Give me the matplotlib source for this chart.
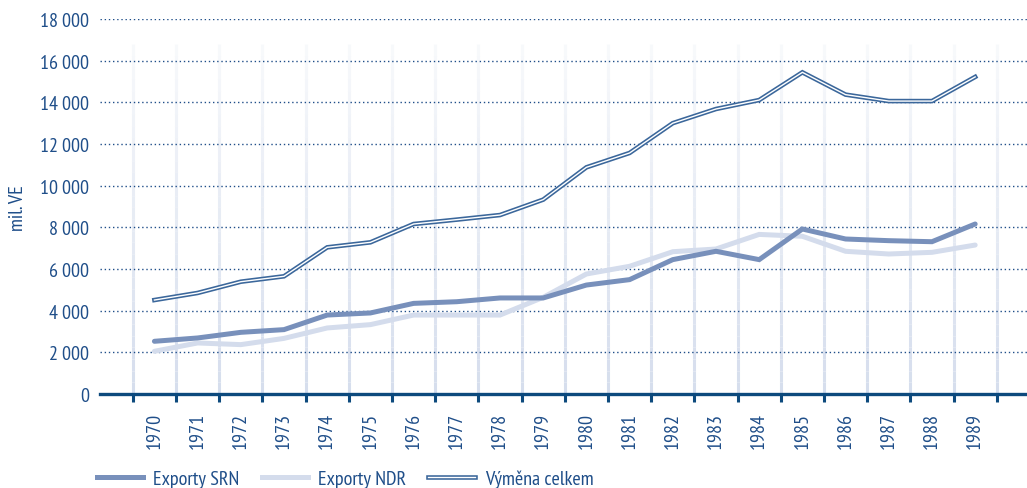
import matplotlib.pyplot as plt
from matplotlib.collections import LineCollection
from matplotlib.lines import Line2D
import numpy as np

plt.rcParams['font.family'] = ['PT Sans Narrow', 'DejaVu Sans']

# Data
years = ['1970', '1971', '1972', '1973', '1974', '1975', '1976', '1977', '1978', '1979',
         '1980', '1981', '1982', '1983', '1984', '1985', '1986', '1987', '1988', '1989']
export_srn = [2530, 2690, 2960, 3090, 3790, 3890, 4350, 4430, 4610, 4610,
              5230, 5490, 6450, 6850, 6450, 7920, 7440, 7360, 7310, 8160]
export_ndr = [2050, 2450, 2370, 2670, 3170, 3330, 3790, 3790, 3790, 4640,
              5760, 6130, 6830, 6960, 7660, 7570, 6850, 6720, 6800, 7150]
vymena = [4510, 4850, 5390, 5650, 7040, 7280, 8160, 8370, 8590, 9330,
          10880, 11570, 13000, 13680, 14110, 15440, 14370, 14060, 14060, 15220]
y_ticks = [0, 2000, 4000, 6000, 8000, 10000, 12000, 14000, 16000, 18000]

dark = '#1f4e89'
c_srn = '#7890bb'
c_ndr = '#d4dcec'
c_vym = '#3b679b'
fs = 14.5

fig = plt.figure(figsize=(10.27, 4.89), dpi=100)
ax = fig.add_axes([100 / 1027, (489 - 395) / 489, 927 / 1027, 375 / 489])

x = np.arange(len(years))
ax.set_xlim(-1.26, 20.2)
ax.set_ylim(0, 18000)

# faded vertical separators between years
segs, cols = [], []
ys = np.linspace(0, 16800, 31)
for b in np.arange(-0.5, len(years), 1.0):
    for i in range(len(ys) - 1):
        segs.append([(b, ys[i]), (b, ys[i + 1])])
        a = 1 - i / (len(ys) - 1)
        cols.append((0.84, 0.87, 0.93, 0.15 + 0.85 * a))
ax.add_collection(LineCollection(segs, colors=cols, linewidths=2.2, zorder=1))

# dotted horizontal grid
for v in y_ticks[1:]:
    ax.axhline(v, color=dark, lw=1.0, ls=(0, (1, 2)), zorder=2)
ax.axhline(0, color='#0d4a7d', lw=2.4, zorder=5, clip_on=False)

# lines
ax.plot(x, export_ndr, color=c_ndr, lw=3.6, solid_capstyle='round', solid_joinstyle='miter', zorder=3)
ax.plot(x, export_srn, color=c_srn, lw=3.6, solid_capstyle='round', solid_joinstyle='miter', zorder=4)
ax.plot(x, vymena, color=c_vym, lw=3.3, solid_joinstyle='miter', zorder=4)
ax.plot(x, vymena, color='white', lw=1.0, solid_joinstyle='miter', zorder=4)

for s in ax.spines.values():
    s.set_visible(False)

ax.set_yticks(y_ticks)
ax.set_yticklabels([f'{v:,}'.replace(',', '\u2009') for v in y_ticks])
ax.tick_params(axis='y', length=0, pad=8, labelsize=fs, labelcolor=dark)

ax.set_xticks(x)
ax.set_xticklabels(years, rotation=90)
ax.set_xticks(np.arange(-0.5, len(years), 1.0), minor=True)
ax.tick_params(axis='x', which='major', length=0, pad=13, labelsize=fs, labelcolor=dark)
ax.tick_params(axis='x', which='minor', length=6, width=2.2, color='#0d4a7d', direction='out')

fig.text(18 / 1027, (489 - 208) / 489, 'mil. VE', rotation=90, ha='center', va='center',
         fontsize=fs, color=dark)

handles = [
    Line2D([], [], color=c_srn, lw=3.6),
    Line2D([], [], color=c_ndr, lw=3.6),
    (Line2D([], [], color=c_vym, lw=3.3), Line2D([], [], color='white', lw=1.0)),
]
labels = ['Exporty SRN', 'Exporty NDR', 'Výměna celkem']
leg = fig.legend(handles, labels, loc='center left', bbox_to_anchor=(97 / 1027, (489 - 480) / 489),
                 ncol=3, frameon=False, fontsize=fs, handlelength=2.3, handletextpad=0.5,
                 columnspacing=1.1, borderaxespad=0, borderpad=0)
for t in leg.get_texts():
    t.set_color(dark)

fig.savefig('out.png', dpi=100)
